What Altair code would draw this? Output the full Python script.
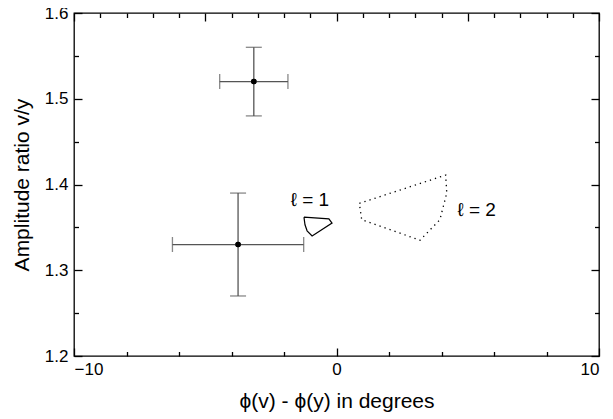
import altair as alt
import pandas as pd

# Data points with error bars
pt_x = [-3.15, -3.75]
pt_y = [1.52, 1.33]
pt_xerr = [1.3, 2.5]
pt_yerr = [0.04, 0.06]

# l = 1 contour (solid, closed)
l1_x = [-1.24, -0.29, -0.17, -0.93, -1.12, -1.20, -1.24]
l1_y = [1.362, 1.360, 1.355, 1.340, 1.346, 1.353, 1.362]

# l = 2 contour (dotted, closed)
l2_x = [0.87, 4.16, 4.20, 3.94, 3.18, 0.96, 0.87]
l2_y = [1.378, 1.411, 1.390, 1.359, 1.335, 1.359, 1.378]

labels = ["ℓ = 1", "ℓ = 2"]
label_x = [-1.01, 5.34]
label_y = [1.382, 1.370]

x_ticks = list(range(-10, 11))
y_ticks = [round(1.2 + 0.05 * i, 2) for i in range(9)]

FONT = "Liberation Sans"
W, H = 525, 343
xs = alt.Scale(domain=[-10, 10], nice=False, zero=False)
ys = alt.Scale(domain=[1.2, 1.6], nice=False, zero=False)

XMAJ = "abs(datum.value) % 5 === 0"
YMAJ = "abs(round(datum.value * 100)) % 10 === 0"


def tsize(test):
    return {"condition": {"test": test, "value": -8}, "value": -4.5}


common = dict(grid=False, domain=False, tickColor="black", tickWidth=1.3,
              labelOverlap=False, labelFont=FONT, labelFontSize=17, labelColor="black",
              titleFont=FONT, titleFontSize=21, titleFontWeight="normal", titleColor="black")

xaxis = alt.Axis(orient="bottom", values=x_ticks, tickSize=tsize(XMAJ),
                 labelExpr=f"{XMAJ} ? datum.label : ''", format="d", labelPadding=13,
                 title="ϕ(v) - ϕ(y) in degrees", titlePadding=10, **common)
yaxis = alt.Axis(orient="left", values=y_ticks, tickSize=tsize(YMAJ),
                 labelExpr=f"{YMAJ} ? datum.label : ''", format=".1f", labelPadding=14,
                 title="Amplitude ratio v/y", titlePadding=12, **common)
xaxis_top = alt.Axis(orient="top", values=x_ticks, tickSize=tsize(XMAJ), labels=False,
                     title=None, grid=False, domain=False, tickColor="black", tickWidth=1.3)
yaxis_right = alt.Axis(orient="right", values=y_ticks, tickSize=tsize(YMAJ), labels=False,
                       title=None, grid=False, domain=False, tickColor="black", tickWidth=1.3)

pts = pd.DataFrame({
    "x": pt_x, "y": pt_y,
    "xlo": [a - b for a, b in zip(pt_x, pt_xerr)],
    "xhi": [a + b for a, b in zip(pt_x, pt_xerr)],
    "ylo": [a - b for a, b in zip(pt_y, pt_yerr)],
    "yhi": [a + b for a, b in zip(pt_y, pt_yerr)],
})

base = alt.Chart(pts)
grey = "#555555"

dots = base.mark_point(filled=True, color="black", size=30, opacity=1).encode(
    x=alt.X("x:Q", scale=xs, axis=xaxis), y=alt.Y("y:Q", scale=ys, axis=yaxis))
dots2 = base.mark_point(filled=True, color="black", size=30, opacity=1).encode(
    x=alt.X("x:Q", scale=xs, axis=xaxis_top), y=alt.Y("y:Q", scale=ys, axis=yaxis_right))

vbar = base.mark_rule(color=grey, strokeWidth=1.3).encode(
    x=alt.X("x:Q", scale=xs), y=alt.Y("ylo:Q", scale=ys), y2="yhi:Q")
hbar = base.mark_rule(color=grey, strokeWidth=1.3).encode(
    x=alt.X("xlo:Q", scale=xs), x2="xhi:Q", y=alt.Y("y:Q", scale=ys))
cap_top = base.mark_tick(orient="horizontal", size=16, thickness=1.3, color=grey).encode(
    x=alt.X("x:Q", scale=xs), y=alt.Y("yhi:Q", scale=ys))
cap_bot = base.mark_tick(orient="horizontal", size=16, thickness=1.3, color=grey).encode(
    x=alt.X("x:Q", scale=xs), y=alt.Y("ylo:Q", scale=ys))
cap_l = base.mark_tick(orient="vertical", size=15, thickness=1.3, color=grey).encode(
    x=alt.X("xlo:Q", scale=xs), y=alt.Y("y:Q", scale=ys))
cap_r = base.mark_tick(orient="vertical", size=15, thickness=1.3, color=grey).encode(
    x=alt.X("xhi:Q", scale=xs), y=alt.Y("y:Q", scale=ys))

l1 = pd.DataFrame({"x": l1_x, "y": l1_y, "o": list(range(len(l1_x)))})
l2 = pd.DataFrame({"x": l2_x, "y": l2_y, "o": list(range(len(l2_x)))})
line1 = alt.Chart(l1).mark_line(color="black", strokeWidth=1.2).encode(
    x=alt.X("x:Q", scale=xs), y=alt.Y("y:Q", scale=ys), order="o:Q")
line2 = alt.Chart(l2).mark_line(color="black", strokeWidth=1.3, strokeDash=[1.3, 4]).encode(
    x=alt.X("x:Q", scale=xs), y=alt.Y("y:Q", scale=ys), order="o:Q")

lab = pd.DataFrame({"t": labels, "x": label_x, "y": label_y})
texts = alt.Chart(lab).mark_text(font=FONT, fontSize=19, color="black").encode(
    x=alt.X("x:Q", scale=xs), y=alt.Y("y:Q", scale=ys), text="t:N")

main = alt.layer(dots, vbar, hbar, cap_top, cap_bot, cap_l, cap_r, line1, line2, texts)

chart = alt.layer(main, dots2).resolve_axis(
    x="independent", y="independent").properties(
    width=W, height=H,
    autosize=alt.AutoSizeParams(type="none"),
    padding={"left": 66, "top": 5, "right": 5, "bottom": 62},
).configure_view(stroke="black", strokeWidth=1.3)

chart.save("out.html", embed_options={"renderer": "svg", "actions": False})
